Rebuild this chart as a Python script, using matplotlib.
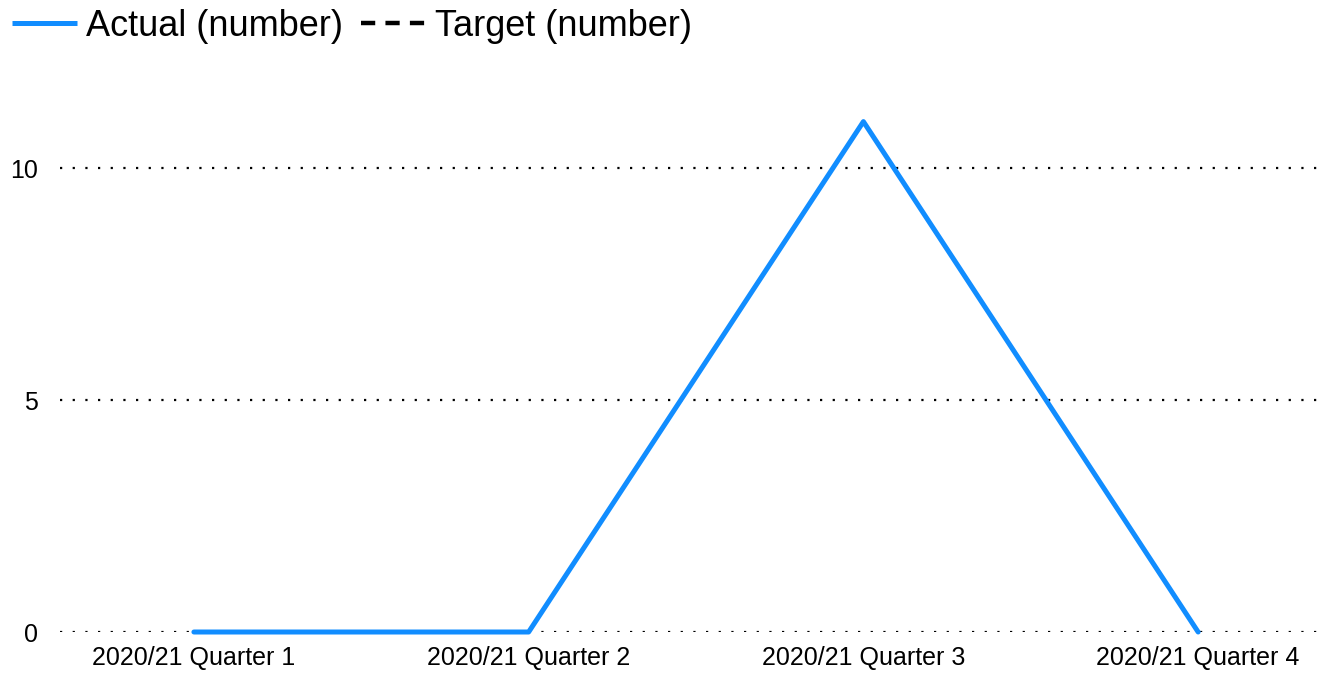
import matplotlib.pyplot as plt
import numpy as np

quarters = ["2020/21 Quarter 1", "2020/21 Quarter 2", "2020/21 Quarter 3", "2020/21 Quarter 4"]
actual = [0, 0, 11, 0]
target = [np.nan, np.nan, np.nan, np.nan]  # no target values recorded
y_ticks = [0, 5, 10]

plt.rcParams["font.family"] = ["Liberation Sans", "DejaVu Sans"]

fig = plt.figure(figsize=(13.22, 6.75), dpi=100)
ax = fig.add_axes([0.0454, 0.0637, 0.9546, 0.7905])

x = np.arange(len(quarters))
ax.plot(x, actual, color="#118DFF", lw=3.6, solid_joinstyle="round",
        solid_capstyle="round", clip_on=False, label="Actual (number)", zorder=3)
ax.plot(x, target, color="black", lw=3.2, ls=(0, (3.2, 2.3)), label="Target (number)")

ax.set_xlim(-0.4, 3.37)
ax.set_ylim(0, 11.5)
ax.set_xticks(x, quarters)
ax.set_yticks(y_ticks)
ax.tick_params(axis="both", length=0, labelsize=18)
ax.tick_params(axis="y", pad=16)
ax.tick_params(axis="x", pad=10)
ax.grid(axis="y", color="black", lw=1.6, ls=(0, (1, 4.7)))
ax.set_axisbelow(True)
for s in ax.spines.values():
    s.set_visible(False)

leg = fig.legend(loc="upper left", bbox_to_anchor=(10 / 1322, 0.99), ncol=2, frameon=False,
                 fontsize=26, handlelength=1.8, handletextpad=0.25, columnspacing=0.5,
                 borderpad=0, borderaxespad=0.05)
for h in leg.get_lines():
    h.set_solid_capstyle("butt")
    h.set_dash_capstyle("butt")

fig.savefig("out.png", dpi=100)
